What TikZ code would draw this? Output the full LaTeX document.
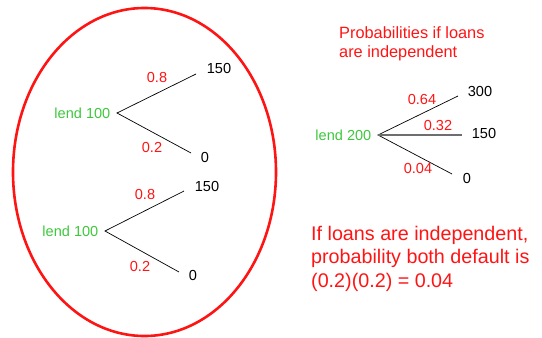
\documentclass[tikz,border=0pt]{standalone}
\usepackage{fontspec}
\setmainfont{Liberation Sans}
\definecolor{myred}{RGB}{255,20,20}
\definecolor{mygreen}{RGB}{60,200,60}
\definecolor{mygray}{RGB}{110,110,110}
\begin{document}
\begin{tikzpicture}[x=1bp,y=-1bp,
  lbl/.style={font=\fontsize{14.6}{17}\selectfont, inner sep=0pt},
  prob/.style={lbl, text=myred},
  root/.style={lbl, text=mygreen, anchor=east},
  leaf/.style={lbl, text=black},
  branch/.style={draw=black, line width=0.7bp},
  bigtext/.style={font=\fontsize{19.8}{23.5}\selectfont, text=myred, inner sep=0pt, align=left, anchor=north west}
]
\useasboundingbox (0,0) rectangle (542,337);
% ellipse
\draw[myred, line width=2.6bp] (144.5,172) ellipse [x radius=131.5bp, y radius=164bp];

% tree 1
\coordinate (r1) at (117,113);
\coordinate (u1) at (196,74);
\coordinate (d1) at (191,153);
\node[root] (lr1) at (110.5,113) {lend 100};
\node[leaf] (lu1) at (219,68) {150};
\node[leaf] (ld1) at (205,157) {0};
\node[prob] (pu1) at (157,77) {0.8};
\node[prob] (pd1) at (152,147) {0.2};
\draw[branch] (u1) -- (r1) -- (d1);

% tree 2
\coordinate (r2) at (105,231);
\coordinate (u2) at (184,191);
\coordinate (d2) at (179,272);
\node[root] (lr2) at (98.5,231) {lend 100};
\node[leaf] (lu2) at (207,186) {150};
\node[leaf] (ld2) at (193,275) {0};
\node[prob] (pu2) at (145,194) {0.8};
\node[prob] (pd2) at (140,266) {0.2};
\draw[branch] (u2) -- (r2) -- (d2);

% right tree
\node[prob, font=\fontsize{16.4}{20}\selectfont, align=left, anchor=north west] (title) at (339,26) {Probabilities if loans\\are independent};
\coordinate (r3) at (378,135);
\coordinate (u3) at (458,96);
\coordinate (m3) at (462,135);
\coordinate (d3) at (452,174);
\node[root] (lr3) at (371.5,135) {lend 200};
\node[leaf] (lu3) at (480,91) {300};
\node[leaf] (lm3) at (484,133) {150};
\node[leaf] (ld3) at (467,178) {0};
\node[prob] (pu3) at (422,99) {0.64};
\node[prob] (pm3) at (438,125) {0.32};
\node[prob] (pd3) at (418,168) {0.04};
\draw[branch] (u3) -- (r3) -- (d3);
\draw[mygray, line width=1.6bp] (r3) -- (m3);

\node[bigtext] (note) at (311,226) {If loans are independent,\\probability both default is\\(0.2)(0.2) = 0.04};
\end{tikzpicture}
\end{document}
